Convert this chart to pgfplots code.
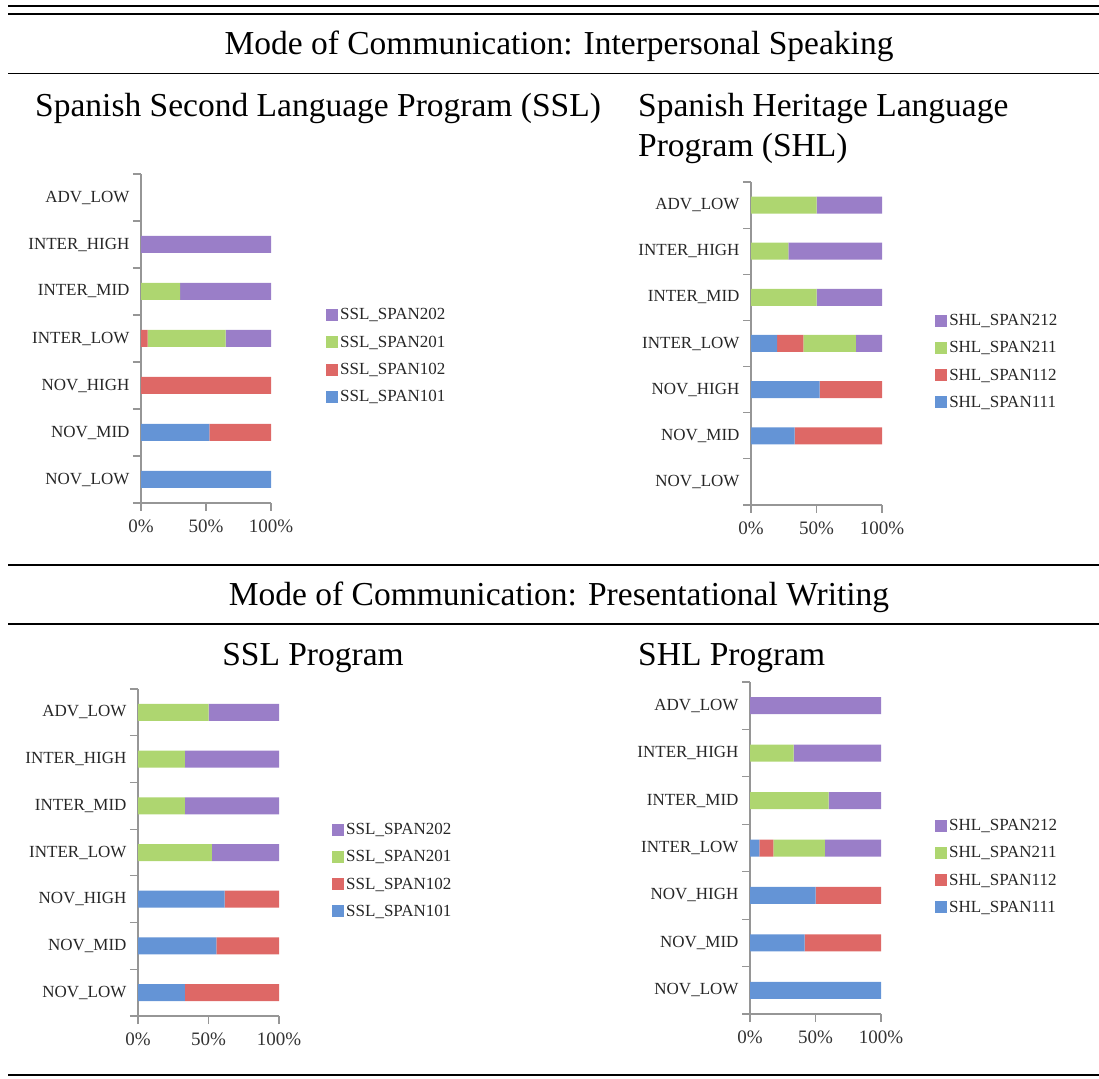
\documentclass[border=0pt]{standalone}
\usepackage{fontspec}
\setmainfont{Liberation Serif}
\usepackage{pgfplots}
\pgfplotsset{compat=1.18}

\definecolor{cblue}{RGB}{100,148,214}
\definecolor{cred}{RGB}{222,104,102}
\definecolor{cgreen}{RGB}{174,214,112}
\definecolor{cpurple}{RGB}{154,126,200}
\definecolor{axgray}{RGB}{150,150,150}

\pgfplotsset{
  chart/.style={
    xbar stacked, scale only axis, clip=false, anchor=south west,
    xmin=0, xmax=100, ymin=-0.5, ymax=6.5, bar width=17pt,
    axis lines*=left, axis line style={axgray, line width=1.2pt},
    xtick={0,50,100}, xticklabels={0\%,50\%,100\%},
    ytick={0,...,6},
    yticklabels={NOV\_LOW,NOV\_MID,NOV\_HIGH,INTER\_LOW,INTER\_MID,INTER\_HIGH,ADV\_LOW},
    minor ytick={-0.5,0.5,...,6.5},
    tick align=outside, major tick length=8pt, minor tick length=8pt,
    every major y tick/.style={draw=none},
    every minor y tick/.style={axgray, line width=1.2pt},
    every major x tick/.style={axgray, line width=1.2pt},
    yticklabel style={font=\fontsize{17}{20}\selectfont, text=black!85},
    xticklabel style={font=\fontsize{19}{22}\selectfont, text=black!80, yshift=-5pt},
    reverse legend,
    legend image code/.code={\fill[##1] (0pt,-6pt) rectangle (12pt,6pt);},
    legend style={draw=none, fill=none, inner sep=0pt, anchor=west,
      font=\fontsize{17}{20}\selectfont, text=black!85, row sep=10.5pt,
      cells={anchor=west}},
  },
  s1/.style={draw=none, fill=cblue},
  s2/.style={draw=none, fill=cred},
  s3/.style={draw=none, fill=cgreen},
  s4/.style={draw=none, fill=cpurple},
}

\begin{document}
\begin{tikzpicture}[x=1pt,y=1pt]
\useasboundingbox (0,0) rectangle (1099,1078);

% rules
\draw[line width=1.3pt] (8,1072) -- (1099,1072);
\draw[line width=2.4pt] (8,1063.7) -- (1099,1063.7);
\draw[line width=1.5pt] (8,1004.7) -- (1099,1004.7);
\draw[line width=1.5pt] (8,513) -- (1099,513);
\draw[line width=1.5pt] (8,454) -- (1099,454);
\draw[line width=2.4pt] (8,3) -- (1099,3);

% headings
\begin{scope}[every node/.style={font=\fontsize{33.5}{40}\selectfont, inner sep=0pt}]
\node[anchor=base] at (559,1023) {Mode of Communication: Interpersonal Speaking};
\node[anchor=base west] at (35,961) {Spanish Second Language Program (SSL)};
\node[anchor=base west] at (638,961) {Spanish Heritage Language};
\node[anchor=base west] at (638,921) {Program (SHL)};
\node[anchor=base] at (559,472) {Mode of Communication: Presentational Writing};
\node[anchor=base] at (313,412) {SSL Program};
\node[anchor=base west] at (638,412) {SHL Program};
\end{scope}

% Interpersonal speaking, SSL
\begin{axis}[chart, at={(141pt,575pt)}, width=130pt, height=329pt,
  legend style={at={(1.423,0.447)}}]
\addplot[s1] coordinates {(100,0) (52.6,1) (0,2) (0,3) (0,4) (0,5) (0,6)};
\addplot[s2] coordinates {(0,0) (47.4,1) (100,2) (5,3) (0,4) (0,5) (0,6)};
\addplot[s3] coordinates {(0,0) (0,1) (0,2) (60,3) (30,4) (0,5) (0,6)};
\addplot[s4] coordinates {(0,0) (0,1) (0,2) (35,3) (70,4) (100,5) (0,6)};
\legend{SSL\_SPAN101,SSL\_SPAN102,SSL\_SPAN201,SSL\_SPAN202}
\end{axis}

% Interpersonal speaking, SHL
\begin{axis}[chart, at={(751pt,573pt)}, width=131pt, height=323pt,
  legend style={at={(1.405,0.444)}}]
\addplot[s1] coordinates {(0,0) (33.3,1) (52.4,2) (20,3) (0,4) (0,5) (0,6)};
\addplot[s2] coordinates {(0,0) (66.7,1) (47.6,2) (20,3) (0,4) (0,5) (0,6)};
\addplot[s3] coordinates {(0,0) (0,1) (0,2) (40,3) (50,4) (28.6,5) (50,6)};
\addplot[s4] coordinates {(0,0) (0,1) (0,2) (20,3) (50,4) (71.4,5) (50,6)};
\legend{SHL\_SPAN111,SHL\_SPAN112,SHL\_SPAN211,SHL\_SPAN212}
\end{axis}

% Presentational writing, SSL
\begin{axis}[chart, at={(138pt,62pt)}, width=141pt, height=327pt,
  legend style={at={(1.376,0.445)}}]
\addplot[s1] coordinates {(33.3,0) (55.6,1) (61.5,2) (0,3) (0,4) (0,5) (0,6)};
\addplot[s2] coordinates {(66.7,0) (44.4,1) (38.5,2) (0,3) (0,4) (0,5) (0,6)};
\addplot[s3] coordinates {(0,0) (0,1) (0,2) (52.4,3) (33.3,4) (33.3,5) (50,6)};
\addplot[s4] coordinates {(0,0) (0,1) (0,2) (47.6,3) (66.7,4) (66.7,5) (50,6)};
\legend{SSL\_SPAN101,SSL\_SPAN102,SSL\_SPAN201,SSL\_SPAN202}
\end{axis}

% Presentational writing, SHL
\begin{axis}[chart, at={(750pt,64pt)}, width=131pt, height=332pt,
  legend style={at={(1.412,0.444)}}]
\addplot[s1] coordinates {(100,0) (41.7,1) (50,2) (7.1,3) (0,4) (0,5) (0,6)};
\addplot[s2] coordinates {(0,0) (58.3,1) (50,2) (10.7,3) (0,4) (0,5) (0,6)};
\addplot[s3] coordinates {(0,0) (0,1) (0,2) (39.3,3) (60,4) (33.3,5) (0,6)};
\addplot[s4] coordinates {(0,0) (0,1) (0,2) (42.9,3) (40,4) (66.7,5) (100,6)};
\legend{SHL\_SPAN111,SHL\_SPAN112,SHL\_SPAN211,SHL\_SPAN212}
\end{axis}
\end{tikzpicture}
\end{document}
